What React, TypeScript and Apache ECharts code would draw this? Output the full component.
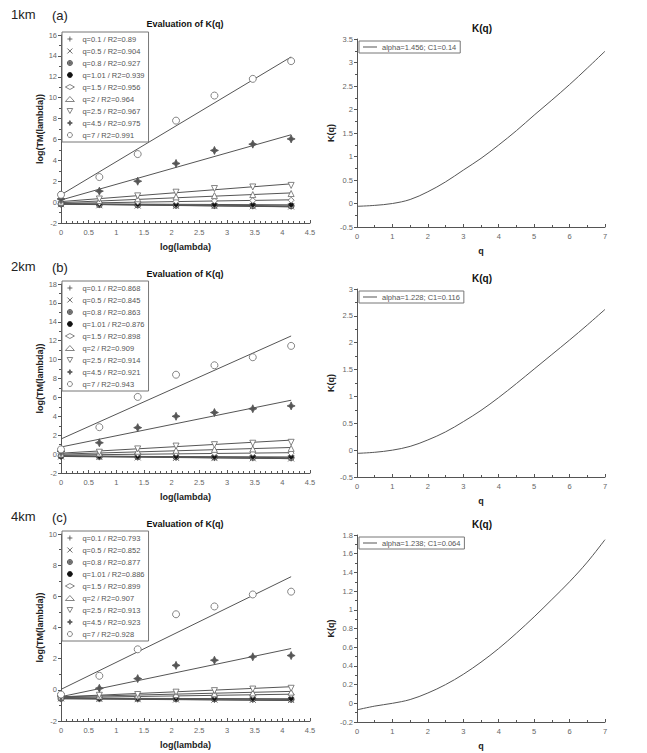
import React, { useEffect, useRef } from "react";
import * as echarts from "echarts";

// ---------- data ----------
const LOG_LAMBDA = [0, 0.693, 1.386, 2.079, 2.773, 3.466, 4.159];
const FIT_X = [0, 4.159];
const Q_VALUES = ["0.1", "0.5", "0.8", "1.01", "1.5", "2", "2.5", "4.5", "7"];

const R2_1KM = ["0.89", "0.904", "0.927", "0.939", "0.956", "0.964", "0.967", "0.975", "0.991"];
const R2_2KM = ["0.868", "0.845", "0.863", "0.876", "0.898", "0.909", "0.914", "0.921", "0.943"];
const R2_4KM = ["0.793", "0.852", "0.877", "0.886", "0.899", "0.907", "0.913", "0.923", "0.928"];

const TM_1KM = [
  [-0.22, -0.28, -0.32, -0.35, -0.38, -0.4, -0.43],
  [-0.2, -0.3, -0.33, -0.36, -0.38, -0.4, -0.42],
  [-0.18, -0.24, -0.27, -0.3, -0.32, -0.33, -0.35],
  [-0.15, -0.2, -0.2, -0.22, -0.23, -0.24, -0.25],
  [-0.1, -0.05, 0.02, 0.08, 0.12, 0.15, 0.18],
  [0, 0.15, 0.32, 0.5, 0.62, 0.72, 0.82],
  [0.1, 0.3, 0.6, 0.95, 1.3, 1.45, 1.6],
  [0.3, 1.05, 2.0, 3.7, 4.95, 5.55, 6.05],
  [0.7, 2.4, 4.6, 7.8, 10.2, 11.8, 13.5],
];
const FIT_1KM = [
  [-0.2, -0.45], [-0.18, -0.44], [-0.17, -0.36], [-0.16, -0.26], [-0.12, 0.22],
  [-0.05, 0.88], [0.05, 1.75], [0.2, 6.45], [0.7, 13.9],
];

const TM_2KM = [
  [-0.3, -0.33, -0.36, -0.4, -0.42, -0.44, -0.46],
  [-0.25, -0.3, -0.35, -0.4, -0.42, -0.44, -0.46],
  [-0.2, -0.25, -0.28, -0.3, -0.32, -0.34, -0.36],
  [-0.22, -0.24, -0.25, -0.26, -0.27, -0.27, -0.28],
  [-0.1, 0, 0.05, 0.1, 0.1, 0.1, 0.1],
  [0, 0.1, 0.3, 0.4, 0.5, 0.55, 0.6],
  [0.05, 0.2, 0.55, 0.85, 1.0, 1.15, 1.25],
  [0.3, 1.2, 2.8, 4.0, 4.4, 4.8, 5.1],
  [0.5, 2.85, 6.05, 8.4, 9.4, 10.25, 11.45],
];
const FIT_2KM = [
  [-0.25, -0.48], [-0.2, -0.48], [-0.18, -0.38], [-0.22, -0.3], [-0.1, 0.15],
  [0, 0.7], [0.1, 1.48], [0.75, 5.7], [1.6, 12.5],
];

const TM_4KM = [
  [-0.6, -0.6, -0.62, -0.63, -0.64, -0.65, -0.65],
  [-0.55, -0.58, -0.6, -0.62, -0.63, -0.64, -0.65],
  [-0.55, -0.55, -0.56, -0.57, -0.58, -0.58, -0.6],
  [-0.55, -0.55, -0.55, -0.55, -0.56, -0.56, -0.56],
  [-0.5, -0.45, -0.45, -0.4, -0.35, -0.35, -0.3],
  [-0.45, -0.4, -0.35, -0.3, -0.25, -0.2, -0.15],
  [-0.4, -0.35, -0.3, -0.15, -0.05, 0.05, 0.1],
  [-0.4, 0.1, 0.72, 1.57, 1.9, 2.12, 2.2],
  [-0.3, 0.9, 2.6, 4.85, 5.35, 6.12, 6.3],
];
const FIT_4KM = [
  [-0.58, -0.68], [-0.55, -0.68], [-0.53, -0.62], [-0.54, -0.57], [-0.5, -0.28],
  [-0.45, -0.1], [-0.45, 0.2], [-0.44, 2.65], [0.03, 7.26],
];

const Q_GRID = [0, 0.5, 1, 1.5, 2, 2.5, 3, 3.5, 4, 4.5, 5, 5.5, 6, 6.5, 7];
const K_1KM = [-0.06, -0.04, 0, 0.085, 0.25, 0.46, 0.71, 0.96, 1.245, 1.55, 1.88, 2.2, 2.53, 2.88, 3.24];
const K_2KM = [-0.06, -0.04, 0, 0.07, 0.19, 0.34, 0.53, 0.74, 0.98, 1.24, 1.51, 1.78, 2.05, 2.33, 2.62];
const K_4KM = [-0.07, -0.03, 0, 0.04, 0.11, 0.2, 0.31, 0.44, 0.586, 0.75, 0.925, 1.11, 1.3, 1.51, 1.75];

const K_LEGEND = ["alpha=1.456; C1=0.14", "alpha=1.228; C1=0.116", "alpha=1.238; C1=0.064"];

// ---------- styles ----------
const SYMBOLS = [
  "path://M5,0L5,10M0,5L10,5",
  "path://M0,0L10,10M0,10L10,0",
  "path://M0,5A5,5,0,1,1,10,5A5,5,0,1,1,0,5ZM0,5L10,5M5,0L5,10",
  "circle",
  "diamond",
  "triangle",
  "path://M0,0L10,0L5,9Z",
  "path://M5,0L6.6,3.4L10,5L6.6,6.6L5,10L3.4,6.6L0,5L3.4,3.4Z",
  "circle",
];
const FILLS = ["#444", "#444", "#aaa", "#111", "#fff", "#fff", "#fff", "#555", "#fff"];
const BORDERS = ["#444", "#444", "#444", "#111", "#666", "#666", "#666", "#555", "#666"];
const SIZES = [6, 6, 6, 4, 6, 6, 6, 8, 7];

const FONT = "Liberation Sans, Arial, sans-serif";
const AXIS_COLOR = "#555";

const LEFT_GRIDS = [
  { left: 61, top: 35, width: 249, height: 188 },
  { left: 61, top: 284, width: 249, height: 189 },
  { left: 61, top: 534, width: 249, height: 187 },
];
const RIGHT_GRIDS = [
  { left: 357, top: 39, width: 248, height: 188 },
  { left: 357, top: 289, width: 248, height: 188 },
  { left: 357, top: 535, width: 248, height: 187 },
];

function axis(gridIndex: number, min: number, max: number, interval: number, name: string, nameGap: number, isY: boolean, minorSplit: number) {
  return {
    type: "value",
    gridIndex,
    min,
    max,
    interval,
    name,
    nameLocation: "middle",
    nameGap,
    nameTextStyle: { fontFamily: FONT, fontSize: 9, fontWeight: "bold", color: "#222" },
    axisLine: { show: true, onZero: false, lineStyle: { color: AXIS_COLOR, width: 1 } },
    axisTick: { show: true, inside: !isY, length: 3, lineStyle: { color: AXIS_COLOR } },
    minorTick: { show: true, splitNumber: minorSplit, length: 2, lineStyle: { color: AXIS_COLOR } },
    splitLine: { show: false },
    minorSplitLine: { show: false },
    axisLabel: { fontFamily: FONT, fontSize: 7.5, color: "#666", margin: isY ? 4 : 5 },
  };
}

export default function App() {
  const ref = useRef<HTMLDivElement>(null);
  useEffect(() => {
    if (!ref.current) return;
    const chart = echarts.init(ref.current, null, { renderer: "svg" });

    const leftSets = [
      { tm: TM_1KM, fit: FIT_1KM, r2: R2_1KM, ymax: 16 },
      { tm: TM_2KM, fit: FIT_2KM, r2: R2_2KM, ymax: 18 },
      { tm: TM_4KM, fit: FIT_4KM, r2: R2_4KM, ymax: 10 },
    ];
    const rightSets = [
      { k: K_1KM, min: -0.5, max: 3.5, interval: 0.5 },
      { k: K_2KM, min: -0.5, max: 3, interval: 0.5 },
      { k: K_4KM, min: -0.2, max: 1.8, interval: 0.2 },
    ];

    const grid: any[] = [];
    const xAxis: any[] = [];
    const yAxis: any[] = [];
    const series: any[] = [];
    const legend: any[] = [];

    [0, 1, 2].forEach((p) => {
      const set = leftSets[p];
      const gi = p * 2;
      grid.push(LEFT_GRIDS[p]);
      xAxis.push(axis(gi, 0, 4.5, 0.5, "log(lambda)", 19, false, 5));
      yAxis.push(axis(gi, -2, set.ymax, 2, "log(TM(lambda))", 13, true, 2));
      const names: string[] = [];
      Q_VALUES.forEach((q, i) => {
        const nm = `q=${q} / R2=${set.r2[i]}`;
        names.push(nm);
        series.push({
          type: "line",
          name: `fit-${p}-${i}`,
          xAxisIndex: gi,
          yAxisIndex: gi,
          data: FIT_X.map((x, j) => [x, set.fit[i][j]]),
          symbol: "none",
          lineStyle: { color: "#555", width: 1 },
          silent: true,
          z: 2,
        });
        series.push({
          type: "scatter",
          name: nm,
          xAxisIndex: gi,
          yAxisIndex: gi,
          data: LOG_LAMBDA.map((x, j) => [x, set.tm[i][j]]),
          symbol: SYMBOLS[i],
          symbolSize: SIZES[i],
          itemStyle: { color: FILLS[i], borderColor: BORDERS[i], borderWidth: 0.8, opacity: 1 },
          z: 3,
        });
      });
      legend.push({
        data: names,
        orient: "vertical",
        left: LEFT_GRIDS[p].left + 1,
        top: LEFT_GRIDS[p].top - 3,
        itemGap: 4,
        itemWidth: 9,
        itemHeight: 5,
        padding: [3, 4, 3, 3],
        borderColor: "#777",
        borderWidth: 1,
        backgroundColor: "#fff",
        itemStyle: { borderWidth: 0.8 },
        textStyle: { fontFamily: FONT, fontSize: 7.5, color: "#555", padding: [0, 0, 0, 3] },
        selectedMode: false,
      });

      const rset = rightSets[p];
      const rgi = p * 2 + 1;
      grid.push(RIGHT_GRIDS[p]);
      xAxis.push(axis(rgi, 0, 7, 1, "q", 19, false, 2));
      yAxis.push(axis(rgi, rset.min, rset.max, rset.interval, "K(q)", 22, true, 2));
      series.push({
        type: "line",
        name: K_LEGEND[p],
        xAxisIndex: rgi,
        yAxisIndex: rgi,
        data: Q_GRID.map((q, j) => [q, rset.k[j]]),
        smooth: 0.35,
        symbol: "none",
        lineStyle: { color: "#555", width: 1 },
        itemStyle: { color: "#555" },
      });
      legend.push({
        data: [{ name: K_LEGEND[p], icon: "rect" }],
        orient: "vertical",
        left: RIGHT_GRIDS[p].left + 2,
        top: RIGHT_GRIDS[p].top + 2,
        itemWidth: 14,
        itemHeight: 1,
        padding: [2, 4, 2, 4],
        borderColor: "#777",
        borderWidth: 1,
        backgroundColor: "#fff",
        textStyle: { fontFamily: FONT, fontSize: 7.5, color: "#555" },
        selectedMode: false,
      });
    });

    const tags = [
      { km: "1km", tag: "(a)", y: 14, ty: 24, ky: 28 },
      { km: "2km", tag: "(b)", y: 266, ty: 274, ky: 278 },
      { km: "4km", tag: "(c)", y: 516, ty: 524, ky: 524 },
    ];
    const graphic: any[] = [];
    tags.forEach((t) => {
      graphic.push({ type: "text", x: 11, y: t.y, style: { text: t.km, font: `13px ${FONT}`, fill: "#222", verticalAlign: "middle" } });
      graphic.push({ type: "text", x: 52, y: t.y + 1, style: { text: t.tag, font: `13px ${FONT}`, fill: "#222", verticalAlign: "middle" } });
      graphic.push({ type: "text", x: 185, y: t.ty, style: { text: "Evaluation of K(q)", font: `bold 9px ${FONT}`, fill: "#111", align: "center", verticalAlign: "middle" } });
      graphic.push({ type: "text", x: 482, y: t.ky, style: { text: "K(q)", font: `bold 10px ${FONT}`, fill: "#111", align: "center", verticalAlign: "middle" } });
    });

    chart.setOption({
      animation: false,
      backgroundColor: "#fff",
      grid,
      xAxis,
      yAxis,
      legend,
      series,
      graphic,
    });
    return () => chart.dispose();
  }, []);
  return <div ref={ref} style={{ position: "absolute", left: 0, top: 0, width: 647, height: 753 }} />;
}
